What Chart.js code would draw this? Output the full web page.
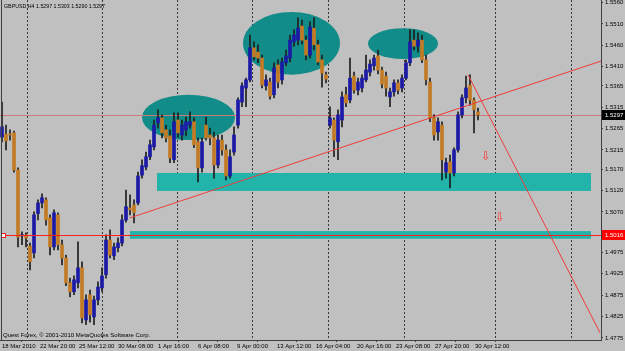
<!DOCTYPE html>
<html><head><meta charset="utf-8">
<script src="https://cdn.jsdelivr.net/npm/chart.js@4.4.1/dist/chart.umd.min.js"></script>
<style>html,body{margin:0;padding:0;background:#c0c0c0;overflow:hidden}#wrap{position:relative;width:625px;height:351px}</style>
</head><body><div id="wrap"><canvas id="c" width="625" height="351"></canvas></div>
<script>
// ---- data (GBPUSD H4, one candle per slot) ----
const openP = [1.5245,1.5252,1.5252,1.5255,1.5168,1.5014,1.5016,1.4990,1.4974,1.5066,
1.5091,1.5098,1.5056,1.4988,1.5063,1.4993,1.4962,1.4904,1.4883,1.4904,
1.4939,1.4817,1.4876,1.4824,1.4864,1.4892,1.4923,1.5004,1.4967,1.4986,
1.4997,1.5051,1.5079,1.5086,1.5091,1.5156,1.5175,1.5199,1.5222,1.5278,
1.5290,1.5262,1.5248,1.5192,1.5285,1.5250,1.5262,1.5273,1.5281,1.5234,
1.5173,1.5273,1.5250,1.5243,1.5180,1.5238,1.5215,1.5154,1.5210,1.5273,
1.5327,1.5360,1.5379,1.5454,1.5444,1.5430,1.5365,1.5374,1.5344,1.5414,
1.5379,1.5419,1.5430,1.5468,1.5472,1.5505,1.5472,1.5437,1.5500,1.5461,
1.5426,1.5391,1.5273,1.5285,1.5234,1.5285,1.5344,1.5332,1.5388,1.5355,
1.5360,1.5379,1.5397,1.5412,1.5435,1.5402,1.5388,1.5339,1.5351,1.5372,
1.5360,1.5383,1.5419,1.5472,1.5458,1.5472,1.5426,1.5374,1.5290,1.5257,
1.5273,1.5163,1.5187,1.5161,1.5215,1.5297,1.5337,1.5367,1.5332,1.5304];
const highP = [1.5327,1.5273,1.5262,1.5259,1.5173,1.5023,1.5021,1.4997,1.5070,1.5098,
1.5112,1.5103,1.5063,1.5075,1.5068,1.5004,1.4969,1.4915,1.4920,1.5000,
1.4953,1.4876,1.4887,1.4873,1.4906,1.4939,1.5016,1.5028,1.4997,1.5009,
1.5063,1.5121,1.5110,1.5098,1.5163,1.5192,1.5210,1.5238,1.5285,1.5309,
1.5297,1.5273,1.5262,1.5302,1.5302,1.5285,1.5292,1.5304,1.5290,1.5243,
1.5243,1.5292,1.5266,1.5257,1.5250,1.5250,1.5227,1.5215,1.5269,1.5337,
1.5372,1.5383,1.5484,1.5468,1.5461,1.5437,1.5391,1.5383,1.5419,1.5426,
1.5430,1.5449,1.5484,1.5496,1.5524,1.5519,1.5482,1.5515,1.5524,1.5472,
1.5437,1.5397,1.5316,1.5290,1.5309,1.5351,1.5362,1.5430,1.5397,1.5383,
1.5391,1.5437,1.5426,1.5437,1.5449,1.5409,1.5397,1.5360,1.5379,1.5379,
1.5391,1.5426,1.5496,1.5496,1.5489,1.5484,1.5437,1.5383,1.5297,1.5290,
1.5281,1.5196,1.5203,1.5220,1.5304,1.5344,1.5388,1.5391,1.5337,1.5313];
const lowP = [1.5234,1.5215,1.5238,1.5163,1.4988,1.4993,1.4988,1.4934,1.4962,1.5051,
1.5079,1.5039,1.4969,1.4981,1.4981,1.4946,1.4897,1.4871,1.4876,1.4892,
1.4810,1.4806,1.4812,1.4806,1.4852,1.4883,1.4915,1.4962,1.4958,1.4976,
1.4990,1.5046,1.5063,1.5044,1.5086,1.5149,1.5168,1.5192,1.5215,1.5266,
1.5243,1.5234,1.5185,1.5185,1.5245,1.5238,1.5248,1.5266,1.5220,1.5140,
1.5163,1.5238,1.5227,1.5149,1.5173,1.5203,1.5145,1.5149,1.5203,1.5266,
1.5316,1.5316,1.5374,1.5426,1.5419,1.5360,1.5355,1.5334,1.5337,1.5360,
1.5369,1.5412,1.5421,1.5458,1.5461,1.5463,1.5426,1.5430,1.5449,1.5414,
1.5362,1.5372,1.5266,1.5199,1.5192,1.5269,1.5316,1.5325,1.5348,1.5344,
1.5351,1.5374,1.5388,1.5402,1.5393,1.5360,1.5341,1.5316,1.5341,1.5346,
1.5351,1.5379,1.5412,1.5449,1.5444,1.5419,1.5367,1.5281,1.5238,1.5238,
1.5145,1.5149,1.5126,1.5154,1.5210,1.5290,1.5325,1.5320,1.5255,1.5285];
const closeP = [1.5269,1.5236,1.5250,1.5168,1.5011,1.5016,1.5009,1.4953,1.5063,1.5091,
1.5103,1.5051,1.4988,1.5068,1.4993,1.4962,1.4904,1.4883,1.4911,1.4939,
1.4822,1.4864,1.4829,1.4864,1.4894,1.4920,1.5004,1.4969,1.4988,1.4997,
1.5051,1.5082,1.5075,1.5068,1.5154,1.5178,1.5199,1.5227,1.5273,1.5290,
1.5255,1.5243,1.5196,1.5281,1.5255,1.5273,1.5281,1.5281,1.5227,1.5173,
1.5234,1.5243,1.5243,1.5180,1.5238,1.5215,1.5154,1.5199,1.5250,1.5332,
1.5365,1.5379,1.5454,1.5433,1.5430,1.5367,1.5379,1.5341,1.5407,1.5374,
1.5421,1.5435,1.5472,1.5484,1.5500,1.5472,1.5437,1.5503,1.5461,1.5421,
1.5395,1.5381,1.5290,1.5238,1.5297,1.5339,1.5325,1.5383,1.5355,1.5374,
1.5383,1.5402,1.5416,1.5430,1.5402,1.5369,1.5360,1.5351,1.5372,1.5355,
1.5383,1.5419,1.5468,1.5458,1.5472,1.5426,1.5379,1.5290,1.5250,1.5281,
1.5192,1.5185,1.5161,1.5215,1.5297,1.5337,1.5360,1.5332,1.5309,1.5297];

const priceTicks = [1.5560,1.5510,1.5460,1.5410,1.5365,1.5315,1.5265,1.5215,1.5170,1.5120,1.5070,1.4975,1.4925,1.4875,1.4825,1.4775];
const dateLabels = ['18 Mar 2010','22 Mar 20:00','25 Mar 12:00','30 Mar 08:00','1 Apr 16:00','6 Apr 08:00','9 Apr 00:00','13 Apr 12:00','16 Apr 04:00','20 Apr 16:00','23 Apr 08:00','27 Apr 20:00','30 Apr 12:00'];
const dateSlots = [0,9.5,19.25,29,39,49,58.75,68.75,78.5,88.75,98.5,108.25,118.25];
const gridSlots = [6.25,25,43.75,62.5,81.5,100.5,123.25,142.25];
// drawn objects (slot, price)
const ellipses = [[35,58.25,1.5344,1.5238],[60.25,84.5,1.5538,1.5391],[91.5,109,1.5500,1.5428]];
const zones = [[38.75,147.25,1.5161,1.5119],[32,147.25,1.5025,1.5007]];
const trendLines = [[32,1.5056,149.75,1.5423],[116.5,1.5391,149.5,1.4787]];
const arrowMarks = [[121,1.5199],[124.5,1.5056]];
const bidPrice = 1.5297;
const levelPrice = 1.5016;
const titleText = 'GBPUSD,H4 1.5297 1.5303 1.5290 1.5297';
const footText = 'Quest Forex, \u00a9 2001-2010 MetaQuotes Software Corp.';

const FONT = '"Liberation Sans",Arial,sans-serif';
const BULL = '#1a1aa6', BEAR = '#c47a22';

const idx = openP.map((_, i) => i);
const wickData = idx.map(i => ({x: i, y: [lowP[i], highP[i]]}));
const bodyData = idx.map(i => ({x: i, y: [openP[i], closeP[i]]}));
const bodyColors = idx.map(i => closeP[i] >= openP[i] ? BULL : BEAR);

function squeezedText(c, txt, x, y, sx) {
  c.save(); c.translate(x, y); c.scale(sx, 1); c.fillText(txt, 0, 0); c.restore();
}

const bgPlugin = {
  id: 'bg',
  beforeDraw(chart) {
    const c = chart.ctx;
    c.save(); c.fillStyle = '#c0c0c0'; c.fillRect(0, 0, chart.width, chart.height); c.restore();
  },
  beforeDatasetsDraw(chart) {
    const c = chart.ctx, xs = chart.scales.x, ys = chart.scales.y, a = chart.chartArea;
    c.save();
    c.beginPath(); c.rect(a.left, a.top, a.right - a.left, a.bottom - a.top); c.clip();
    // vertical dotted grid
    c.strokeStyle = '#383838'; c.lineWidth = 1; c.setLineDash([2, 2]);
    gridSlots.forEach(s => {
      const x = Math.round(xs.getPixelForValue(s)) + 0.5;
      c.beginPath(); c.moveTo(x, a.top); c.lineTo(x, a.bottom); c.stroke();
    });
    c.setLineDash([]);
    // zones
    c.fillStyle = '#22b3aa';
    zones.forEach(z => {
      const x1 = xs.getPixelForValue(z[0]), x2 = xs.getPixelForValue(z[1]);
      const y1 = ys.getPixelForValue(z[2]), y2 = ys.getPixelForValue(z[3]);
      c.fillRect(x1, y1, x2 - x1, y2 - y1);
    });
    // ellipses
    c.fillStyle = '#128c88';
    ellipses.forEach(e => {
      const x1 = xs.getPixelForValue(e[0]), x2 = xs.getPixelForValue(e[1]);
      const y1 = ys.getPixelForValue(e[2]), y2 = ys.getPixelForValue(e[3]);
      c.beginPath();
      c.ellipse((x1 + x2) / 2, (y1 + y2) / 2, (x2 - x1) / 2, (y2 - y1) / 2, 0, 0, Math.PI * 2);
      c.fill();
    });
    // bid line
    const yb = Math.round(ys.getPixelForValue(bidPrice)) + 0.5;
    c.strokeStyle = '#cc7a7a'; c.lineWidth = 1;
    c.beginPath(); c.moveTo(a.left, yb); c.lineTo(a.right, yb); c.stroke();
    c.restore();
  },
  afterDatasetsDraw(chart) {
    const c = chart.ctx, xs = chart.scales.x, ys = chart.scales.y, a = chart.chartArea;
    c.save();
    c.beginPath(); c.rect(a.left, a.top, a.right - a.left, a.bottom - a.top); c.clip();
    c.strokeStyle = '#f03c3c'; c.lineWidth = 1;
    trendLines.forEach(t => {
      c.beginPath();
      c.moveTo(xs.getPixelForValue(t[0]), ys.getPixelForValue(t[1]));
      c.lineTo(xs.getPixelForValue(t[2]), ys.getPixelForValue(t[3]));
      c.stroke();
    });
    // level line
    const yl = Math.round(ys.getPixelForValue(levelPrice)) + 0.5;
    c.strokeStyle = '#ff2020';
    c.beginPath(); c.moveTo(a.left + 2, yl); c.lineTo(a.right, yl); c.stroke();
    c.fillStyle = '#ffffff'; c.fillRect(a.left + 1.5, yl - 2, 4, 4);
    c.strokeRect(a.left + 1.5, yl - 2, 4, 4);
    // arrows
    c.fillStyle = '#ff3030'; c.font = '12px "DejaVu Sans",sans-serif';
    c.textAlign = 'center'; c.textBaseline = 'middle';
    arrowMarks.forEach(m => c.fillText('\u21e9', xs.getPixelForValue(m[0]), ys.getPixelForValue(m[1])));
    c.restore();
    // frame left line
    c.save(); c.strokeStyle = '#404040'; c.lineWidth = 1;
    c.beginPath(); c.moveTo(1.5, 0); c.lineTo(1.5, a.bottom); c.stroke();
    c.restore();
    // texts
    c.save(); c.fillStyle = '#000'; c.font = '6px ' + FONT; c.textBaseline = 'alphabetic'; c.textAlign = 'left';
    squeezedText(c, titleText, 4, 8, 0.88);
    squeezedText(c, footText, 3, 337, 1.0);
    c.restore();
  },
  afterDraw(chart) {
    const c = chart.ctx, ys = chart.scales.y, a = chart.chartArea;
    c.save(); c.font = '6px ' + FONT; c.textBaseline = 'middle'; c.textAlign = 'left';
    [[bidPrice, '#000000'], [levelPrice, '#ff0000']].forEach(p => {
      const y = Math.round(ys.getPixelForValue(p[0]));
      c.fillStyle = p[1]; c.fillRect(a.right + 1, y - 5, 24, 10);
      c.fillStyle = '#ffffff'; c.fillText(p[0].toFixed(4), a.right + 4, y + 0.5);
    });
    c.restore();
  }
};

new Chart(document.getElementById('c'), {
  type: 'bar',
  data: {
    datasets: [
      {data: wickData, backgroundColor: '#1e1e1e', barThickness: 1, grouped: false, minBarLength: 1, order: 2},
      {data: bodyData, backgroundColor: bodyColors, barThickness: 3, grouped: false, minBarLength: 1, order: 1}
    ]
  },
  options: {
    responsive: false, animation: false, devicePixelRatio: 1,
    layout: {padding: 0},
    plugins: {legend: {display: false}, tooltip: {enabled: false}},
    scales: {
      x: {
        type: 'linear', position: 'bottom', min: -0.5, max: 149.75, offset: false,
        afterBuildTicks: s => { s.ticks = dateSlots.map(v => ({value: v})); },
        afterFit: s => { s.height = 11; s.paddingLeft = 0; s.paddingRight = 0; },
        ticks: {autoSkip: false, maxRotation: 0, align: 'start', padding: 1, color: '#000',
          font: {family: FONT, size: 6}, callback: (v, i) => dateLabels[i]},
        grid: {drawOnChartArea: false, tickLength: 2, color: '#404040'},
        border: {display: true, color: '#404040'}
      },
      y: {
        type: 'linear', position: 'right', min: 1.4770, max: 1.5566,
        afterBuildTicks: s => { s.ticks = priceTicks.map(v => ({value: v})); },
        afterFit: s => { s.width = 24; s.paddingTop = 0; s.paddingBottom = 0; },
        ticks: {autoSkip: false, padding: 2, color: '#000', font: {family: FONT, size: 6},
          callback: v => v.toFixed(4)},
        grid: {drawOnChartArea: false, tickLength: 2, color: '#404040'},
        border: {display: true, color: '#404040'}
      }
    }
  },
  plugins: [bgPlugin]
});
</script></body></html>
